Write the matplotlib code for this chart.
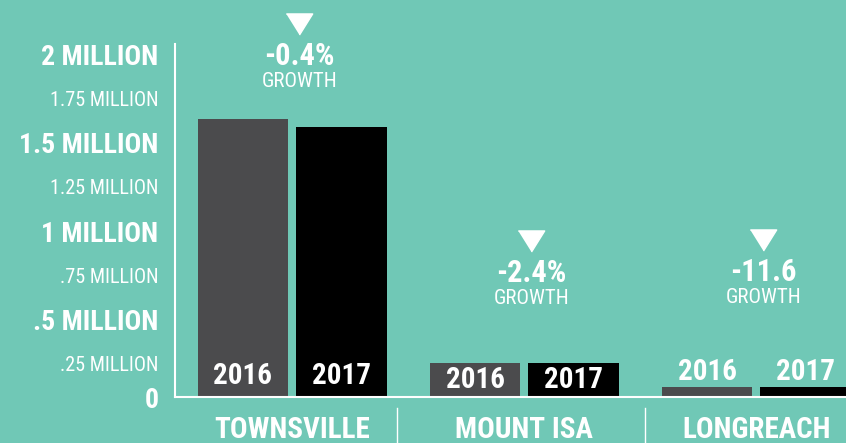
import numpy as np
import matplotlib.pyplot as plt
from matplotlib.transforms import ScaledTranslation

# visitor numbers (millions)
cities = ['TOWNSVILLE', 'MOUNT ISA', 'LONGREACH']
years = ['2016', '2017']
visitors_2016 = [1.576, 0.193, 0.057]
visitors_2017 = [1.531, 0.192, 0.056]
growth = ['-0.4%', '-2.4%', '-11.6']
tick_vals = [0, 0.25, 0.5, 0.75, 1.0, 1.25, 1.5, 1.75, 2.0]
tick_labels = ['0', '.25 MILLION', '.5 MILLION', '.75 MILLION', '1 MILLION',
               '1.25 MILLION', '1.5 MILLION', '1.75 MILLION', '2 MILLION']
major_ticks = [0, 0.5, 1.0, 1.5, 2.0]

# where the growth callouts sit (millions) and where the year labels go
callout_y = [2.112, 0.884, 0.890]
year_label_y = [0.119, 0.096, 0.142]

BG = '#70c8b6'
GREY = '#4b4b4d'
FONT = ['Roboto Condensed', 'DejaVu Sans']
TRI = [(-1, 0.8), (1, 0.8), (0, -0.8)]

fig = plt.figure(figsize=(8.46, 4.43), dpi=100, facecolor=BG)
ax = fig.add_axes([175 / 846, 46 / 443, 671 / 846, 353 / 443])
ax.set_facecolor(BG)

x = np.arange(len(cities))
w = 0.392
off = 0.213
ax.bar(x - off, visitors_2016, w, color=GREY)
ax.bar(x + off, visitors_2017, w, color='black')

ax.set_xlim(-0.506, 2.386)
ax.set_ylim(0, 2.0)

for s in ['top', 'right']:
    ax.spines[s].set_visible(False)
for s in ['left', 'bottom']:
    ax.spines[s].set_color('white')
    ax.spines[s].set_linewidth(1.5)

ax.set_yticks(tick_vals)
ax.set_yticklabels(tick_labels)
ax.tick_params(axis='y', length=0, pad=12)
shift = ScaledTranslation(0, -0.105, fig.dpi_scale_trans)
for v, lab in zip(tick_vals, ax.get_yticklabels()):
    lab.set_color('white')
    lab.set_family(FONT)
    if v in major_ticks:
        lab.set_fontsize(20)
        lab.set_fontweight('bold')
    else:
        lab.set_fontsize(14.5)
    if v != 0:
        # labels hang just below their gridline in the original
        lab.set_transform(lab.get_transform() + shift)

ax.set_xticks(x)
ax.set_xticklabels(cities)
ax.tick_params(axis='x', length=0, pad=14)
for lab in ax.get_xticklabels():
    lab.set_color('white')
    lab.set_family(FONT)
    lab.set_fontsize(21)
    lab.set_fontweight('bold')

# separators between cities
for sx in [0.45, 1.52]:
    ax.axvline(sx, ymin=-0.13, ymax=-0.03, color='white', lw=1, clip_on=False)

# year labels
for i in range(len(cities)):
    for dx, yr in zip([-off, off], years):
        ax.text(x[i] + dx, year_label_y[i], yr, ha='center', va='center',
                color='white', fontsize=21, fontweight='bold', family=FONT)

# growth callouts
for i in range(len(cities)):
    cy = callout_y[i]
    ax.plot(x[i] + 0.03, cy, marker=TRI, color='white', markersize=19,
            clip_on=False, linestyle='none')
    ax.text(x[i] + 0.03, cy - 0.181, growth[i], ha='center', va='center',
            color='white', fontsize=22, fontweight='bold', family=FONT)
    ax.text(x[i] + 0.03, cy - 0.326, 'GROWTH', ha='center', va='center',
            color='white', fontsize=15, family=FONT)

fig.savefig('out.png', dpi=100, facecolor=BG)
